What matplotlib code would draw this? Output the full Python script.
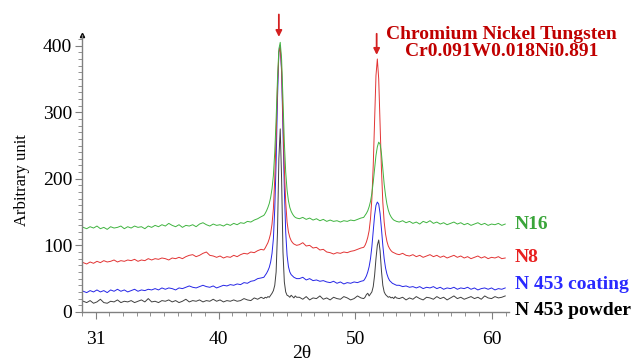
import numpy as np
import matplotlib.pyplot as plt
from matplotlib.ticker import MultipleLocator, FixedLocator

plt.rcParams['font.family'] = ['Liberation Serif', 'DejaVu Serif']

# 2-theta grid: backgrounds at 0.25 deg, the two peaks at 0.1 deg
two_theta = np.concatenate([
    np.linspace(30.1, 43.1, 53),
    np.linspace(43.3, 45.7, 25),
    np.linspace(45.9, 50.4, 19),
    np.linspace(50.6, 53.0, 25),
    np.linspace(53.2, 60.95, 32),
])

n16 = [
    127, 125, 128, 126, 129, 125, 127, 124, 128, 126, 127, 129, 125, 128, 126, 129, 127, 128, 125, 129,
    127, 130, 128, 131, 129, 133, 130, 128, 131, 127, 130, 129, 131, 128, 132, 134, 131, 129, 132, 130,
    131, 129, 132, 130, 133, 131, 134, 133, 136, 135, 138, 140, 143,
    # peak 44.5
    145, 148, 152, 157, 163, 172, 185, 205, 240, 290, 350, 395, 405, 380, 320, 255, 210, 183, 167, 157,
    151, 147, 144, 142, 141,
    140, 142, 139, 141, 138, 140, 137, 139, 136, 138, 136, 137, 135, 137, 136, 138, 137, 139, 141,
    # peak 51.7
    142, 145, 148, 152, 158, 166, 178, 195, 215, 235, 248, 255, 252, 238, 215, 192, 175, 162, 153, 147,
    143, 140, 138, 137, 136,
    135, 137, 134, 136, 133, 135, 132, 136, 134, 137, 133, 135, 132, 134, 131, 133, 135, 132, 134, 131,
    133, 130, 132, 134, 131, 133, 130, 132, 131, 133, 130, 132,
]

n8 = [
    74, 72, 75, 73, 76, 74, 77, 75, 76, 78, 75, 77, 76, 78, 77, 79, 76, 78, 77, 80,
    78, 80, 79, 81, 80, 78, 81, 80, 82, 80, 83, 85, 86, 83, 85, 88, 90, 85, 84, 82,
    84, 81, 83, 82, 85, 83, 86, 88, 87, 90, 89, 92, 94,
    93, 96, 100, 104, 110, 118, 132, 155, 200, 265, 340, 390, 398, 365, 290, 215, 165, 135, 120, 112,
    107, 104, 102, 101, 100,
    101, 104, 99, 100, 96, 97, 93, 94, 90, 89, 87, 89, 88, 90, 89, 91, 92, 94, 96,
    97, 100, 105, 112, 122, 140, 170, 220, 290, 355, 380, 350, 285, 215, 165, 135, 117, 106, 99, 95,
    92, 90, 89, 88, 87,
    86, 88, 85, 84, 86, 83, 85, 82, 84, 86, 83, 85, 82, 84, 81, 83, 85, 82, 84, 81,
    83, 80, 82, 84, 81, 83, 80, 82, 81, 83, 80, 81,
]

n453_coating = [
    31, 29, 32, 30, 33, 30, 32, 29, 33, 31, 34, 31, 33, 30, 32, 34, 31, 33, 32, 34,
    33, 35, 33, 36, 34, 36, 35, 33, 36, 35, 37, 39, 37, 36, 38, 40, 38, 37, 39, 36,
    38, 40, 39, 41, 40, 42, 41, 44, 43, 46, 47, 50, 51,
    52, 55, 58, 62, 67, 75, 88, 110, 155, 225, 320, 390, 400, 360, 270, 185, 120, 85, 68, 60,
    56, 54, 52, 51, 50,
    50, 52, 48, 50, 47, 48, 46, 47, 45, 44, 46, 43, 45, 42, 44, 43, 45, 44, 46,
    47, 50, 54, 60, 68, 80, 98, 122, 145, 160, 165, 162, 148, 125, 100, 80, 66, 57, 51, 47,
    45, 43, 42, 41, 40,
    40, 38, 39, 37, 38, 36, 38, 35, 37, 36, 38, 35, 37, 34, 36, 35, 37, 34, 36, 35,
    37, 34, 36, 33, 35, 36, 34, 36, 33, 35, 34, 36,
]

n453_powder = [
    16, 14, 17, 13, 15, 19, 14, 13, 16, 15, 18, 14, 16, 15, 17, 14, 16, 18, 15, 20,
    15, 16, 14, 17, 16, 18, 15, 17, 14, 16, 19, 15, 17, 16, 18, 15, 17, 16, 19, 16,
    18, 15, 17, 16, 18, 16, 17, 20, 18, 17, 21, 19, 22,
    20, 22, 21, 23, 22, 25, 28, 32, 40, 60, 120, 230, 275, 200, 90, 45, 30, 25, 24, 22,
    25, 23, 21, 24, 22,
    22, 19, 23, 18, 21, 20, 24, 19, 21, 18, 22, 20, 19, 23, 21, 18, 20, 24, 21,
    20, 22, 26, 28, 24, 27, 30, 38, 55, 80, 100, 108, 92, 62, 40, 30, 26, 24, 22, 23,
    21, 22, 20, 23, 21,
    20, 22, 18, 21, 19, 23, 20, 18, 22, 21, 19, 23, 20, 22, 18, 21, 24, 20, 22, 19,
    21, 23, 20, 22, 19, 24, 21, 20, 23, 21, 22, 24,
]

series = [
    (n453_powder, '#404040', '#000000', 'N 453 powder', 1.5),
    (n453_coating, '#2626e6', '#2a2aff', 'N 453 coating', 41),
    (n8, '#e23434', '#e82020', 'N8', 81),
    (n16, '#40b440', '#3aa53a', 'N16', 131),
]

fig = plt.figure(figsize=(6.35, 3.61), dpi=100)
ax = fig.add_axes([0.129, 0.136, 0.672, 0.767])

for vals, lc, tc, name, ylab in series:
    ax.plot(two_theta, vals, color=lc, lw=0.7)
    ax.text(61.65, ylab, name, color=tc, fontsize=14, fontweight='bold',
            ha='left', va='center', clip_on=False)

ax.set_xlim(30, 61.2)
ax.set_ylim(0, 416)

for s in ['top', 'right']:
    ax.spines[s].set_visible(False)
for s in ['left', 'bottom']:
    ax.spines[s].set_color('#808080')
    ax.spines[s].set_linewidth(1)

ax.xaxis.set_major_locator(FixedLocator([31, 40, 50, 60]))
ax.xaxis.set_minor_locator(MultipleLocator(1))
ax.yaxis.set_major_locator(MultipleLocator(100))
ax.yaxis.set_minor_locator(MultipleLocator(10))
ax.tick_params(which='major', length=5, color='#808080', labelsize=14)
ax.tick_params(which='minor', length=3, color='#808080')
ax.tick_params(axis='x', pad=9)
ax.tick_params(axis='y', pad=2)

# little arrow head at top of y axis
ax.plot([30], [416], marker='^', color='black', markersize=3, clip_on=False)

# peak markers
ax.annotate('', xy=(44.4, 409), xytext=(44.4, 451), annotation_clip=False,
            arrowprops=dict(arrowstyle='-|>', color='#d42020', lw=1.3, mutation_scale=9))
ax.annotate('', xy=(51.55, 382), xytext=(51.55, 422), annotation_clip=False,
            arrowprops=dict(arrowstyle='-|>', color='#d42020', lw=1.3, mutation_scale=9))
ax.text(60.7, 404, 'Chromium Nickel Tungsten\nCr0.091W0.018Ni0.891', color='#c00000',
        fontsize=14, fontweight='bold', ha='center', va='center', linespacing=1.05,
        clip_on=False)

fig.text(22 / 635, 0.5, 'Arbitrary unit', rotation=90, fontsize=12, ha='center', va='center')
fig.text(302 / 635, 8 / 361, '2θ', fontsize=14, ha='center', va='center')

fig.savefig('out.png', dpi=100)
